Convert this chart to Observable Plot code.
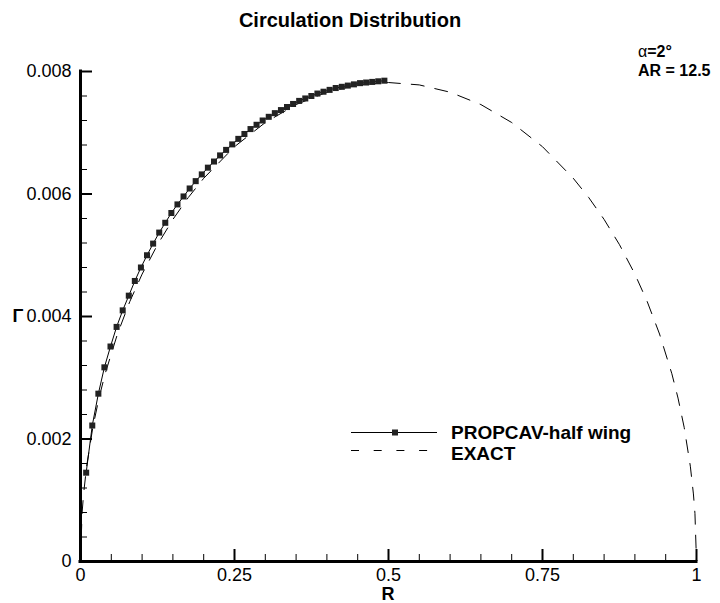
<!DOCTYPE html>
<html>
<head>
<meta charset="utf-8">
<script src="https://cdn.jsdelivr.net/npm/d3@7"></script>
<script src="https://cdn.jsdelivr.net/npm/@observablehq/plot@0.6"></script>
<style>
  html, body { margin: 0; padding: 0; background: #fff; }
  #wrap { position: relative; width: 720px; height: 603px; }
  #wrap svg { position: absolute; left: 0; top: 0; }
</style>
</head>
<body>
<div id="wrap"></div>
<script>
// ---- data ----
const propR = [0.0092, 0.0191, 0.0290, 0.0388, 0.0487, 0.0586, 0.0685, 0.0784, 0.0882, 0.0981,
  0.1080, 0.1179, 0.1278, 0.1376, 0.1475, 0.1574, 0.1673, 0.1772, 0.1870, 0.1969,
  0.2068, 0.2167, 0.2266, 0.2364, 0.2463, 0.2562, 0.2661, 0.2760, 0.2858, 0.2957,
  0.3056, 0.3155, 0.3254, 0.3352, 0.3451, 0.3550, 0.3649, 0.3748, 0.3846, 0.3945,
  0.4044, 0.4143, 0.4242, 0.4340, 0.4439, 0.4538, 0.4637, 0.4736, 0.4834, 0.4933];
const propG = [0.00145, 0.00222, 0.00274, 0.00317, 0.00351, 0.00383, 0.00410, 0.00434, 0.00458, 0.00480,
  0.00500, 0.00519, 0.00537, 0.00553, 0.00569, 0.00583, 0.00596, 0.00609, 0.00621, 0.00632,
  0.00643, 0.00653, 0.00663, 0.00672, 0.00681, 0.00690, 0.00698, 0.00706, 0.00713, 0.00720,
  0.00726, 0.00732, 0.00737, 0.00742, 0.00747, 0.00752, 0.00756, 0.00760, 0.00764, 0.00767,
  0.00770, 0.00773, 0.00775, 0.00777, 0.00779, 0.00781, 0.00782, 0.00783, 0.00784, 0.00785];
const exactR = [0, 0.0025, 0.005, 0.01, 0.02, 0.03, 0.04, 0.06, 0.08, 0.1, 0.125, 0.15, 0.175, 0.2,
  0.25, 0.3, 0.35, 0.4, 0.45, 0.5, 0.55, 0.6, 0.65, 0.7, 0.75, 0.8, 0.825, 0.85, 0.875, 0.9,
  0.92, 0.94, 0.96, 0.97, 0.98, 0.99, 0.995, 0.9975, 1];
const exactG = [0, 0.000781, 0.001103, 0.001556, 0.002190, 0.002668, 0.003065, 0.003714, 0.004243,
  0.004692, 0.005172, 0.005585, 0.005943, 0.006256, 0.006772, 0.007167, 0.007460, 0.007662,
  0.007781, 0.007820, 0.007781, 0.007662, 0.007460, 0.007167, 0.006772, 0.006256, 0.005943,
  0.005585, 0.005172, 0.004692, 0.004243, 0.003714, 0.003065, 0.002668, 0.002190, 0.001556,
  0.001103, 0.000781, 0];
const xMajor = [0, 0.25, 0.5, 0.75, 1];
const xMajorLabels = ["0", "0.25", "0.5", "0.75", "1"];
const xMinor = [0.05, 0.1, 0.15, 0.2, 0.3, 0.35, 0.4, 0.45, 0.55, 0.6, 0.65, 0.7, 0.8, 0.85, 0.9, 0.95];
const yMajor = [0, 0.002, 0.004, 0.006, 0.008];
const yMajorLabels = ["0", "0.002", "0.004", "0.006", "0.008"];
const yMinor = [0.0004, 0.0008, 0.0012, 0.0016, 0.0024, 0.0028, 0.0032, 0.0036, 0.0044, 0.0048,
  0.0052, 0.0056, 0.0064, 0.0068, 0.0072, 0.0076];
const seriesNames = ["PROPCAV-half wing", "EXACT"];
const titleText = "Circulation Distribution";
const xLabel = "R";
const yLabel = "Γ";

// ---- plot ----
const W = 720, H = 603, mL = 80, mR = 24, mT = 71, mB = 42;
const innerW = W - mL - mR, innerH = H - mT - mB;
const prop = propR.map((r, i) => ({r, g: propG[i]}));
const exact = exactR.map((r, i) => ({r, g: exactG[i]}));
const FONT = "'Liberation Sans', Arial, Helvetica, sans-serif";

const chart = Plot.plot({
  width: W, height: H,
  marginLeft: mL, marginRight: mR, marginTop: mT, marginBottom: mB,
  style: {fontFamily: FONT, fontSize: "18px", color: "black", background: "white"},
  x: {domain: [0, 1]},
  y: {domain: [0, 0.008]},
  marks: [
    Plot.axisX({ticks: xMajor, tickSize: 0, tickPadding: 7, tickFormat: d => xMajorLabels[xMajor.indexOf(d)], label: null, fontSize: 18}),
    Plot.axisY({ticks: yMajor, tickSize: 0, tickPadding: 9, tickFormat: d => yMajorLabels[yMajor.indexOf(d)], label: null, fontSize: 18}),
    // inward ticks
    Plot.tickX(xMajor, {x: d => d, insetTop: innerH - 12, stroke: "black", strokeWidth: 2}),
    Plot.tickX(xMinor, {x: d => d, insetTop: innerH - 7, stroke: "black", strokeWidth: 1}),
    Plot.tickY(yMajor, {y: d => d, insetRight: innerW - 12, stroke: "black", strokeWidth: 2}),
    Plot.tickY(yMinor, {y: d => d, insetRight: innerW - 7, stroke: "black", strokeWidth: 1}),
    Plot.line(exact, {x: "r", y: "g", stroke: "black", strokeWidth: 1, strokeDasharray: "13,11"}),
    Plot.line(prop, {x: "r", y: "g", stroke: "black", strokeWidth: 1}),
    Plot.dot(prop, {x: "r", y: "g", symbol: "square", r: 3.4, fill: "#222", stroke: null}),
    Plot.ruleY([0], {stroke: "black", strokeWidth: 3, strokeLinecap: "square"}),
    Plot.ruleX([0], {stroke: "black", strokeWidth: 3, strokeLinecap: "square"})
  ]
});
document.getElementById("wrap").appendChild(chart);

// ---- overlay: title, axis titles, annotation, legend ----
const ov = d3.select("#wrap").append("svg")
  .attr("width", W).attr("height", H)
  .style("pointer-events", "none")
  .attr("font-family", FONT);

ov.append("text").attr("x", 350).attr("y", 27).attr("text-anchor", "middle")
  .attr("font-size", 20).attr("font-weight", "bold").text(titleText);

ov.append("text").attr("x", 388).attr("y", 600).attr("text-anchor", "middle")
  .attr("font-size", 18).attr("font-weight", "bold").text(xLabel);
ov.append("text").attr("x", 18).attr("y", 322).attr("text-anchor", "middle")
  .attr("font-size", 18).attr("font-weight", "bold").text(yLabel);

const a1 = ov.append("text").attr("x", 638).attr("y", 57).attr("font-size", 16);
a1.append("tspan").text("α");
a1.append("tspan").attr("font-weight", "bold").text("=2°");
ov.append("text").attr("x", 638).attr("y", 76).attr("font-size", 16)
  .attr("font-weight", "bold").text("AR = 12.5");

// legend
ov.append("line").attr("x1", 351).attr("x2", 437).attr("y1", 432.5).attr("y2", 432.5)
  .attr("stroke", "black").attr("stroke-width", 1);
ov.append("rect").attr("x", 392).attr("y", 429.5).attr("width", 6).attr("height", 6).attr("fill", "#222");
ov.append("text").attr("x", 451).attr("y", 438.5).attr("font-size", 19).attr("font-weight", "bold").text(seriesNames[0]);
ov.append("line").attr("x1", 351).attr("x2", 437).attr("y1", 450.5).attr("y2", 450.5)
  .attr("stroke", "black").attr("stroke-width", 1).attr("stroke-dasharray", "8,14.7");
ov.append("text").attr("x", 451).attr("y", 460).attr("font-size", 19).attr("font-weight", "bold").text(seriesNames[1]);
</script>
</body>
</html>
